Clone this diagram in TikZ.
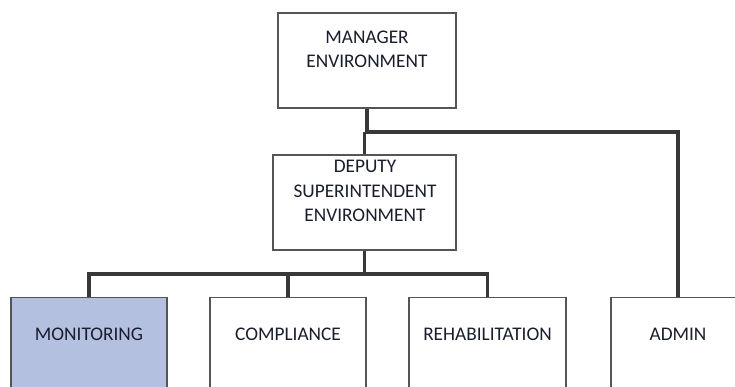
\documentclass[tikz,border=0pt]{standalone}
\usepackage{fontspec}
\setmainfont{Carlito}
\definecolor{boxline}{HTML}{555555}
\definecolor{connline}{HTML}{383838}
\definecolor{txt}{HTML}{1A1E2C}
\definecolor{monfill}{HTML}{B4C0E0}
\begin{document}
\begin{tikzpicture}[x=1pt,y=-1pt,
  box/.style={draw=boxline,line width=1.2pt,fill=white,inner sep=0pt,
    minimum width=156pt,anchor=north,text=txt,
    font=\fontsize{19.3}{24.7}\selectfont,text height=43pt,text depth=70pt},
  topbox/.style={draw=boxline,line width=1.2pt,fill=white,inner sep=0pt},
  lbl/.style={text=txt,align=center,inner sep=0pt,anchor=base,
    font=\fontsize{19.3}{24.7}\selectfont},
  conn/.style={draw=connline,line width=3.3pt}]
\useasboundingbox (0,0) rectangle (735,387);
\clip (0,0) rectangle (735,387);
\fill[white] (0,0) rectangle (735,387);
% top boxes
\node[topbox,minimum width=178pt,minimum height=95pt] (mgr) at (367,60.5) {};
\node[lbl] (mgrt) at (367,68) {MANAGER\\ENVIRONMENT};
\node[topbox,minimum width=183pt,minimum height=95pt] (dep) at (364.5,202.5) {};
\node[lbl] (dept) at (365,222) {DEPUTY\\SUPERINTENDENT\\ENVIRONMENT};
% bottom boxes
\node[box,fill=monfill] (mon) at (89,297) {MONITORING};
\node[box] (comp) at (288,297) {COMPLIANCE};
\node[box,minimum width=157pt] (reh) at (487.5,297) {REHABILITATION};
\node[box,minimum width=134pt] (adm) at (678,297) {ADMIN};
% connectors
\coordinate (j) at (365,132);
\coordinate (b) at (364,274);
\draw[conn] (mgr.south) -- (mgr.south |- j) -| (adm.north);
\draw[conn] (dep.north) -- (dep.north |- j);
\draw[conn] (dep.south) -- (dep.south |- b);
\draw[conn] (mon.north) |- (b) -| (reh.north);
\draw[conn] (comp.north) -- (comp.north |- b);
\end{tikzpicture}
\end{document}
